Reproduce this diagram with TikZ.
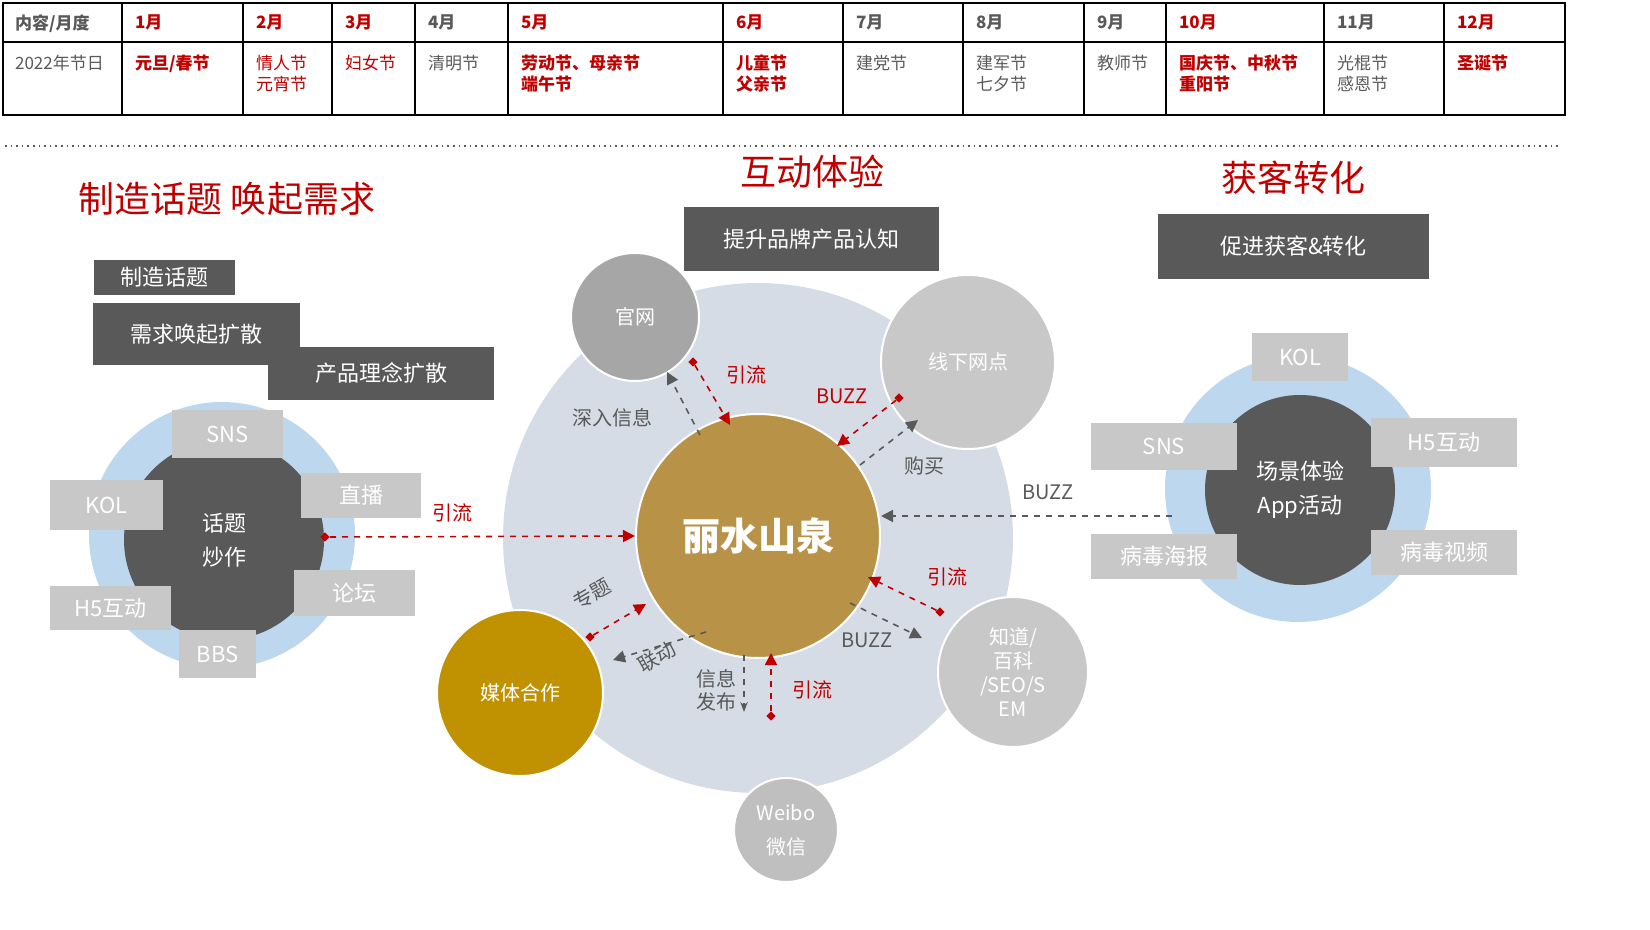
\documentclass[tikz,border=0pt]{standalone}
\usepackage{fontspec}
\setmainfont{Noto Sans CJK SC}
\usetikzlibrary{arrows.meta,shapes.geometric}
\definecolor{rd}{HTML}{C00000}
\definecolor{dk}{HTML}{595959}
\definecolor{lg}{HTML}{C8C8C8}
\definecolor{bl}{HTML}{BDD7EE}
\definecolor{bg}{HTML}{D6DCE5}
\definecolor{gold}{HTML}{B89347}
\definecolor{gold2}{HTML}{C09100}
\definecolor{tx}{HTML}{595959}
\tikzset{
 lbox/.style={fill=lg,text=white,font=\fontsize{11}{13}\selectfont},
 dbox/.style={fill=dk,text=white,font=\fontsize{11}{13}\selectfont},
 circ/.style={circle,draw=white,line width=1pt,text=white,inner sep=0},
 rarr/.style={rd,dashed,line width=0.8pt,-{Triangle[length=6pt,width=6pt]}},
 garr/.style={dk,dashed,line width=0.8pt,-{Triangle[length=6pt,width=6pt]}},
 dstart/.style={rd,inner sep=1.5pt,fill=rd,diamond},
 rl/.style={text=rd,font=\fontsize{10}{12}\selectfont},
 gl/.style={text=tx,font=\fontsize{10}{12}\selectfont},
 th/.style={anchor=north west,font=\bfseries\fontsize{8.5}{10}\selectfont,align=left},
 tc/.style={anchor=north west,font=\fontsize{8.5}{10.5}\selectfont,align=left},
 title/.style={text=rd,font=\fontsize{18}{20}\selectfont}
}
\begin{document}
\begin{tikzpicture}[x=0.5pt,y=-0.5pt]
% table
\draw[line width=1.2pt] (3,3) rectangle (1565,115);
\draw[line width=1.2pt] (3,42) -- (1565,42);
\foreach \x in {122,243,332,415,508,723,843,963,1084,1166,1324,1444}
  \draw[line width=1.2pt] (\x,3) -- (\x,115);
\node[th,text=tx] (h0) at (8,8) {内容/月度};
\foreach \x/\t/\c [count=\i] in {128/1月/rd,249/2月/rd,338/3月/rd,421/4月/tx,514/5月/rd,729/6月/rd,849/7月/tx,969/8月/tx,1090/9月/tx,1172/10月/rd,1330/11月/tx,1450/12月/rd}
  \node[th,text=\c] (h\i) at (\x,8) {\t};
\node[tc,text=tx] (c0) at (8,48) {2022年节日};
\node[tc,text=rd,font=\bfseries\fontsize{8.5}{10.5}\selectfont] (c1) at (128,48) {元旦/春节};
\node[tc,text=rd] (c2) at (249,48) {情人节\\元宵节};
\node[tc,text=rd] (c3) at (338,48) {妇女节};
\node[tc,text=tx] (c4) at (421,48) {清明节};
\node[tc,text=rd,font=\bfseries\fontsize{8.5}{10.5}\selectfont] (c5) at (514,48) {劳动节、母亲节\\端午节};
\node[tc,text=rd,font=\bfseries\fontsize{8.5}{10.5}\selectfont] (c6) at (729,48) {儿童节\\父亲节};
\node[tc,text=tx] (c7) at (849,48) {建党节};
\node[tc,text=tx] (c8) at (969,48) {建军节\\七夕节};
\node[tc,text=tx] (c9) at (1090,48) {教师节};
\node[tc,text=rd,font=\bfseries\fontsize{8.5}{10.5}\selectfont] (c10) at (1172,48) {国庆节、中秋节\\重阳节};
\node[tc,text=tx] (c11) at (1330,48) {光棍节\\感恩节};
\node[tc,text=rd,font=\bfseries\fontsize{8.5}{10.5}\selectfont] (c12) at (1450,48) {圣诞节};
\draw[dotted,line width=0.8pt,tx] (5,146) -- (1560,146);
% titles
\node[title] (t1) at (227,199) {制造话题 唤起需求};
\node[title] (t2) at (812,172) {互动体验};
\node[title] (t3) at (1293,178) {获客转化};
\node[dbox,minimum width=127.5pt,minimum height=32pt] (b2) at (811.5,239) {提升品牌产品认知};
\node[dbox,minimum width=135.5pt,minimum height=32.5pt] (b3) at (1293.5,246.5) {促进获客\&转化};
\node[dbox,minimum width=70.5pt,minimum height=17.5pt] (d1) at (164.5,277.5) {制造话题};
\node[dbox,minimum width=103.5pt,minimum height=31pt] (d2) at (196.5,334) {需求唤起扩散};
\node[dbox,minimum width=113pt,minimum height=26.5pt] (d3) at (381,373.5) {产品理念扩散};
% left cluster
\fill[bl] (222,535) circle[radius=133];
\node[circ,fill=dk,minimum size=100pt,draw=none,align=center,font=\fontsize{11}{17}\selectfont] (lc) at (224,540) {话题\\炒作};
\foreach \n/\a/\b/\c/\d/\t in {s1/172/410/283/458/SNS,s2/50/480/163/530/KOL,s3/301/473/421/518/直播,s4/294/570/415/616/论坛,s5/50/586/171/630/H5互动,s6/179/630/256/678/BBS}
  \node[lbox,minimum width={(\c-\a)*0.5pt},minimum height={(\d-\b)*0.5pt},inner sep=0] (\n) at ({(\a+\c)/2},{(\b+\d)/2}) {\t};
% right cluster
\fill[bl] (1298,489) circle[radius=133];
\node[circ,fill=dk,minimum size=95pt,draw=none,align=center,font=\fontsize{11}{17}\selectfont] (rc) at (1300,490) {场景体验\\App活动};
\foreach \n/\a/\b/\c/\d/\t in {r1/1252/333/1348/381/KOL,r2/1091/423/1237/470/SNS,r3/1371/418/1517/467/H5互动,r4/1091/534/1237/579/病毒海报,r5/1371/530/1517/575/病毒视频}
  \node[lbox,minimum width={(\c-\a)*0.5pt},minimum height={(\d-\b)*0.5pt},inner sep=0] (\n) at ({(\a+\c)/2},{(\b+\d)/2}) {\t};
% center
\fill[bg] (758,538) circle[radius=255];
\node[circ,fill=gold,minimum size=122pt,font=\bfseries\fontsize{19}{21}\selectfont] (m) at (758,536) {丽水山泉};
\node[circ,fill={rgb,255:red,166;green,166;blue,166},minimum size=64pt,font=\fontsize{10}{12}\selectfont] (gw) at (635,317) {官网};
\node[circ,fill=lg,minimum size=87pt,font=\fontsize{10}{12}\selectfont] (xx) at (968,362) {线下网点};
\node[circ,fill=lg,minimum size=75pt,align=center,font=\fontsize{10}{12}\selectfont] (zd) at (1013,672) {知道/\\百科\\/SEO/S\\EM};
\node[circ,fill={rgb,255:red,191;green,191;blue,191},minimum size=52pt,align=center,font=\fontsize{10}{17}\selectfont] (wb) at (786,830) {Weibo\\微信};
\node[circ,fill=gold2,minimum size=83pt,font=\fontsize{10}{12}\selectfont] (mt) at (520,693) {媒体合作};
% connectors
\coordinate (p1) at (325,537);
\node[dstart,inner sep=1.2pt] (q1) at (p1) {};
\draw[rarr] (q1) -- (m.west);
\node[rl] (l1) at (452,513) {引流};
\coordinate (p2) at (1172,516);
\draw[garr] (p2) -- (m.east |- p2);
\node[gl] (l2) at (1048,492) {BUZZ};
\coordinate (a1) at (700,435); \coordinate (a2) at (667,372);
\draw[garr] (a1) -- (a2);
\node[gl] (l3) at (612,418) {深入信息};
\node[dstart,inner sep=1.2pt] (q2) at (693,362) {};
\coordinate (a3) at (730,425);
\draw[rarr] (q2) -- (a3);
\node[rl] (l4) at (746,375) {引流};
\node[dstart,inner sep=1.2pt] (q3) at (899,398) {};
\coordinate (a4) at (837,446);
\draw[rarr] (q3) -- (a4);
\node[rl] (l5) at (842,396) {BUZZ};
\coordinate (a5) at (860,465); \coordinate (a6) at (918,420);
\draw[garr] (a5) -- (a6);
\node[gl] (l6) at (924,466) {购买};
\node[dstart,inner sep=1.2pt] (q4) at (940,612) {};
\coordinate (a7) at (868,577);
\draw[rarr] (q4) -- (a7);
\node[rl] (l7) at (947,577) {引流};
\coordinate (a8) at (850,603); \coordinate (a9) at (922,638);
\draw[garr] (a8) -- (a9);
\node[gl] (l8) at (867,640) {BUZZ};
\node[dstart,inner sep=1.2pt] (q5) at (771,716) {};
\coordinate (a10) at (771,653);
\draw[rarr] (q5) -- (a10);
\node[rl] (l9) at (812,690) {引流};
\coordinate (a11) at (744,655); \coordinate (a12) at (744,712);
\draw[garr,-{Stealth[length=5pt]}] (a11) -- (a12);
\node[gl,align=center,font=\fontsize{10}{11.5}\selectfont] (l10) at (716,690) {信息\\发布};
\node[dstart,inner sep=1.2pt] (q6) at (590,637) {};
\coordinate (a13) at (646,604);
\draw[rarr] (q6) -- (a13);
\node[gl,rotate=30,inner sep=0] (l11) at (592,594) {专题};
\coordinate (a14) at (706,632); \coordinate (a15) at (613,660);
\draw[garr] (a14) -- (a15);
\node[gl,rotate=30,inner sep=0] (l12) at (657,657) {联动};
\pgfresetboundingbox
\useasboundingbox (0,0) rectangle (1650,930);
\end{tikzpicture}
\end{document}
